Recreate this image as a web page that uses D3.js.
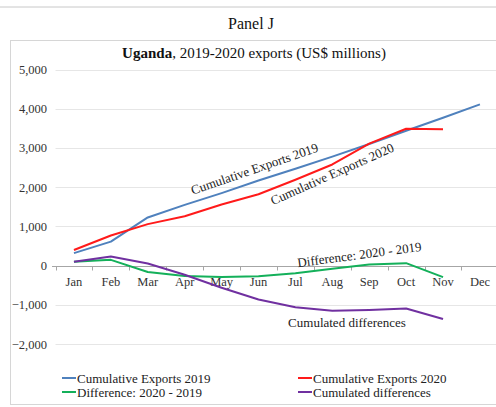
<!DOCTYPE html>
<html>
<head>
<meta charset="utf-8">
<script src="https://cdn.jsdelivr.net/npm/d3@7"></script>
<style>
  html, body { margin: 0; padding: 0; background: #fff; }
  svg { display: block; font-family: "Liberation Serif", "Times New Roman", serif; }
</style>
</head>
<body>
<svg id="chart" width="496" height="407"></svg>
<script>
// Monthly categories
const months = ["Jan", "Feb", "Mar", "Apr", "May", "Jun", "Jul", "Aug", "Sep", "Oct", "Nov", "Dec"];

// Series (US$ millions)
const cumExports2019 = [320, 615, 1230, 1550, 1850, 2170, 2470, 2780, 3100, 3440, 3770, 4110];
const cumExports2020 = [400, 770, 1060, 1260, 1560, 1820, 2190, 2580, 3110, 3490, 3480];
const difference = [100, 150, -160, -260, -290, -270, -190, -80, 30, 65, -290];
const cumulatedDiff = [100, 235, 55, -230, -560, -860, -1060, -1150, -1130, -1090, -1360];

// Axis ticks
const yTicks = [5000, 4000, 3000, 2000, 1000, 0, -1000, -2000];

const seriesNames = ["Cumulative Exports 2019", "Cumulative Exports 2020", "Difference: 2020 - 2019", "Cumulated differences"];
const seriesColors = ["#4f81bd", "#ff1a1a", "#14b05a", "#7030a0"];
const seriesData = [cumExports2019, cumExports2020, difference, cumulatedDiff];

const svg = d3.select("#chart");

// Page rule and panel heading
svg.append("line").attr("x1", 0).attr("x2", 496).attr("y1", 7).attr("y2", 7)
  .attr("stroke", "#c8c8c8").attr("stroke-width", 1);
svg.append("text").attr("x", 251).attr("y", 29).attr("text-anchor", "middle")
  .attr("font-size", 16).attr("fill", "#111").text("Panel J");

// Chart frame
svg.append("rect").attr("x", 10.5).attr("y", 40.5).attr("width", 500).attr("height", 364)
  .attr("fill", "#fff").attr("stroke", "#d6d6d6");

// Chart title
const title = svg.append("text").attr("x", 254).attr("y", 58).attr("text-anchor", "middle")
  .attr("font-size", 15).attr("fill", "#111");
title.append("tspan").attr("font-weight", "bold").text("Uganda");
title.append("tspan").text(", 2019-2020 exports (US$ millions)");

// Scales
const x = d3.scaleBand().domain(months).range([55.5, 498.4]).padding(0);
const y = d3.scaleLinear().domain([-2000, 5000]).range([344.2, 69.5]);
const cx = m => x(m) + x.bandwidth() / 2;

// Horizontal gridlines
svg.append("g").selectAll("line").data(yTicks.filter(d => d !== 0)).join("line")
  .attr("x1", 55.5).attr("x2", 496)
  .attr("y1", d => Math.round(y(d)) + 0.5).attr("y2", d => Math.round(y(d)) + 0.5)
  .attr("stroke", "#e6e6e6").attr("stroke-width", 1);

// Y axis labels
const yAxis = d3.axisLeft(y).tickValues(yTicks).tickFormat(d3.format(",")).tickSize(0).tickPadding(0);
const gy = svg.append("g").attr("transform", "translate(47,0)").call(yAxis);
gy.select(".domain").remove();
gy.selectAll("text").attr("font-size", 12.5).attr("fill", "#333")
  .attr("font-family", "Liberation Serif, Times New Roman, serif");

// Category axis on the zero line
const y0 = Math.round(y(0)) + 0.5;
svg.append("line").attr("x1", 52).attr("x2", 496).attr("y1", y0).attr("y2", y0)
  .attr("stroke", "#a6a6a6").attr("stroke-width", 1);
svg.append("g").selectAll("line").data(months.concat(["end"])).join("line")
  .attr("x1", (d, i) => Math.round(55.5 + i * x.bandwidth()) + 0.5)
  .attr("x2", (d, i) => Math.round(55.5 + i * x.bandwidth()) + 0.5)
  .attr("y1", y0).attr("y2", y0 + 4)
  .attr("stroke", "#a6a6a6").attr("stroke-width", 1);
svg.append("g").selectAll("text").data(months).join("text")
  .attr("x", d => cx(d)).attr("y", y0 + 19).attr("text-anchor", "middle")
  .attr("font-size", 12.5).attr("fill", "#333").text(d => d);

// Series lines
const line = d3.line().x((d, i) => cx(months[i])).y(d => y(d));
seriesData.forEach((vals, k) => {
  svg.append("path").datum(vals).attr("d", line)
    .attr("fill", "none").attr("stroke", seriesColors[k]).attr("stroke-width", 2)
    .attr("stroke-linejoin", "round");
});

// In-plot annotations
function note(txt, px, py, angle) {
  svg.append("text").attr("transform", `translate(${px},${py}) rotate(${angle})`)
    .attr("text-anchor", "middle").attr("font-size", 13).attr("fill", "#222").text(txt);
}
note("Cumulative Exports 2019", 256, 173, -19);
note("Cumulative Exports 2020", 334, 178, -24);
note("Difference: 2020 - 2019", 360, 259, -7.5);
note("Cumulated differences", 347, 327, 0);

// Legend
const legendPos = [[62, 378], [298, 378], [62, 392], [298, 392]];
seriesNames.forEach((name, k) => {
  const [lx, ly] = legendPos[k];
  svg.append("line").attr("x1", lx).attr("x2", lx + 14).attr("y1", ly).attr("y2", ly)
    .attr("stroke", seriesColors[k]).attr("stroke-width", 2);
  svg.append("text").attr("x", lx + 15).attr("y", ly + 4.5)
    .attr("font-size", 13).attr("fill", "#222").text(name);
});
</script>
</body>
</html>
